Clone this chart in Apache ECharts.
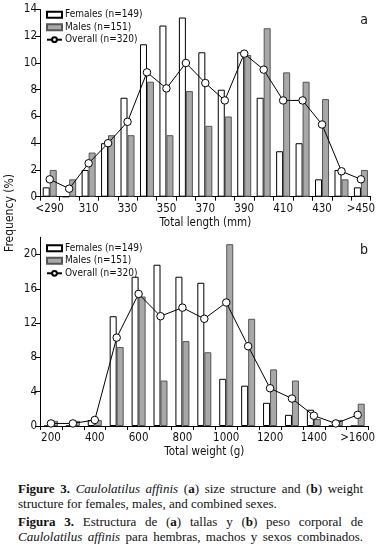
<!DOCTYPE html>
<html>
<head>
<meta charset="utf-8">
<script src="https://cdn.jsdelivr.net/npm/echarts@6/dist/echarts.min.js"></script>
<style>
html,body{margin:0;padding:0;background:#fff;}
#wrap{position:relative;width:378px;height:551px;overflow:hidden;}
#chart{position:absolute;left:0;top:0;width:378px;height:470px;}
#cap{position:absolute;left:18px;top:481px;width:345px;font-family:'Liberation Serif','Times New Roman',serif;font-size:13px;line-height:15px;color:#111;}
#cap div{white-space:nowrap;}
#cap .j{text-align:justify;text-align-last:justify;}
#cap .gap{margin-top:3px;}
</style>
</head>
<body>
<div id="wrap">
<div id="chart"></div>
<div id="cap">
<div class="j"><b>Figure 3.</b> <i>Caulolatilus affinis</i> (<b>a</b>) size structure and (<b>b</b>) weight</div>
<div>structure for females, males, and combined sexes.</div>
<div class="j gap"><b>Figura 3.</b> Estructura de (<b>a</b>) tallas y (<b>b</b>) peso corporal de</div>
<div class="j"><i>Caulolatilus affinis</i> para hembras, machos y sexos combinados.</div>
</div>
</div>
<script>
// ---- Data: (a) total length ----
const lengthCats = ['<290','300','310','320','330','340','350','360','370','380','390','400','410','420','430','440','>450'];
const lengthFemales = [0.7, 0, 2.0, 4.0, 7.4, 11.4, 12.8, 13.4, 10.8, 8.0, 10.8, 7.4, 3.4, 4.0, 1.3, 2.0, 0.7];
const lengthMales   = [2.0, 1.3, 3.3, 4.6, 4.6, 8.6, 4.6, 7.9, 5.3, 6.0, 10.6, 12.6, 9.3, 8.6, 7.3, 1.3, 2.0];
const lengthOverall = [1.3, 0.6, 2.5, 4.0, 5.6, 9.3, 8.1, 10.0, 8.5, 7.2, 10.7, 9.5, 7.2, 7.2, 5.4, 1.9, 1.3];

// ---- Data: (b) total weight ----
const weightCats = ['200','300','400','500','600','700','800','900','1000','1100','1200','1300','1400','1500','>1600'];
const weightFemales = [0, 0, 0.7, 12.8, 17.4, 18.8, 17.4, 16.7, 5.5, 4.7, 2.7, 1.3, 1.9, 0, 0];
const weightMales   = [0.6, 0.6, 0.7, 9.2, 15.1, 5.3, 9.9, 8.6, 21.2, 12.5, 6.6, 5.3, 0.8, 0.7, 2.6];
const weightOverall = [0.3, 0.3, 0.7, 10.3, 15.4, 12.8, 13.8, 12.5, 14.4, 9.3, 4.4, 3.2, 1.2, 0.3, 1.3];

const lengthTicks = [0,2,4,6,8,10,12,14];
const weightTicks = [0,4,8,12,16,20];

const names = ['Females (n=149)','Males (n=151)','Overall (n=320)'];
const FONT = "'DejaVu Sans Condensed','Liberation Sans Narrow','Arial Narrow',sans-serif";
const TXT = '#111';

function xAxis(grid, cats, name){
  return {
    gridIndex: grid, type:'category', data: cats, boundaryGap:true,
    axisLine:{show:true, lineStyle:{color:'#000', width:1}},
    axisTick:{show:true, interval:0, length:4, lineStyle:{color:'#000'}},
    axisLabel:{interval:1, color:TXT, fontSize:11.5, margin:6, fontFamily:FONT},
    splitLine:{show:false},
    name: name, nameLocation:'middle', nameGap:20,
    nameTextStyle:{fontSize:11.5, color:TXT, fontFamily:FONT}
  };
}
function yAxis(grid, max, interval, ticks){
  return {
    gridIndex: grid, type:'value', min:0, max:max, interval:interval,
    axisLine:{show:true, lineStyle:{color:'#000', width:1}},
    axisTick:{show:true, length:5, lineStyle:{color:'#000'}, customValues: ticks},
    axisLabel:{color:TXT, fontSize:11.5, margin:3, fontFamily:FONT, customValues: ticks},
    splitLine:{show:false}
  };
}
function barSeries(name, grid, data, fill, border){
  return {
    name: name, type:'bar', xAxisIndex:grid, yAxisIndex:grid, data:data,
    barWidth:7, barGap:'0%',
    itemStyle:{color:fill, borderColor:border, borderWidth:1},
    emphasis:{disabled:true}
  };
}
function lineSeries(name, grid, data){
  return {
    name: name, type:'line', xAxisIndex:grid, yAxisIndex:grid, data:data,
    symbol:'circle', symbolSize:7.5, z:5,
    lineStyle:{color:'#000', width:1},
    itemStyle:{color:'#fff', borderColor:'#000', borderWidth:1},
    emphasis:{disabled:true}
  };
}
function legend(top){
  return {
    left:46, top: top, orient:'vertical', itemGap:1.5, itemWidth:15, itemHeight:6,
    selectedMode:false, padding:0,
    textStyle:{fontSize:10, color:TXT, fontFamily:FONT, lineHeight:11, padding:[0,0,0,-2]},
    data:[
      {name:names[0], icon:'rect'},
      {name:names[1], icon:'rect'},
      {name:names[2]}
    ]
  };
}

const chart = echarts.init(document.getElementById('chart'), null, {renderer:'canvas'});
chart.setOption({
  animation:false,
  backgroundColor:'#fff',
  textStyle:{fontFamily:FONT},
  grid:[
    {left:40, top:9.5, width:335.5, height:187.2},
    {left:40, top:237.3, width:334.5, height:188.7}
  ],
  legend:[legend(9.2), legend(242.8)],
  xAxis:[xAxis(0, lengthCats, 'Total length (mm)'), xAxis(1, weightCats, 'Total weight (g)')],
  yAxis:[yAxis(0, 14, 2, lengthTicks), yAxis(1, 22, 4, weightTicks)],
  series:[
    barSeries(names[0], 0, lengthFemales, '#ffffff', '#000000'),
    barSeries(names[1], 0, lengthMales, '#a8a8a8', '#555555'),
    lineSeries(names[2], 0, lengthOverall),
    barSeries(names[0], 1, weightFemales, '#ffffff', '#000000'),
    barSeries(names[1], 1, weightMales, '#a8a8a8', '#555555'),
    lineSeries(names[2], 1, weightOverall)
  ],
  graphic:[
    {type:'text', x:10, y:213, rotation:Math.PI/2,
     style:{text:'Frequency (%)', fill:TXT, font:"12px " + FONT, align:'center', verticalAlign:'middle'}},
    {type:'text', x:364, y:20,
     style:{text:'a', fill:TXT, font:"14px " + FONT, align:'center', verticalAlign:'middle'}},
    {type:'text', x:364, y:250,
     style:{text:'b', fill:TXT, font:"14px " + FONT, align:'center', verticalAlign:'middle'}}
  ]
});
</script>
</body>
</html>
